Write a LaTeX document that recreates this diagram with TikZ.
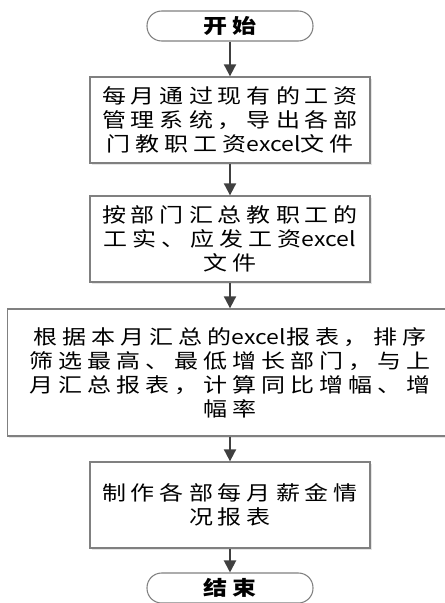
\documentclass[tikz,border=0pt]{standalone}
\usepackage{fontspec}
\newfontfamily\cjkfont[FakeStretch=1.2,LetterSpace=25]{Noto Sans CJK SC}
\newfontfamily\latfont[FakeStretch=1.15]{Noto Sans CJK SC}
\newcommand{\xls}{{\latfont excel}}
\usetikzlibrary{positioning,arrows.meta,shadows}

\begin{document}
\begin{tikzpicture}[x=0.75pt,y=-0.75pt]
	\tikzset{
		procbox/.style={draw=black!50,line width=1pt,fill=white,minimum width=210pt,minimum height=64.5pt,align=center,inner sep=2pt,
			drop shadow={shadow xshift=1.2pt,shadow yshift=-1.2pt,fill=black!20},font=\cjkfont\fontsize{15}{18}\selectfont},
		termbox/.style={draw=black!50,line width=0.8pt,fill=white,rounded corners=11pt,minimum width=124.5pt,minimum height=22.5pt,
			font=\cjkfont\bfseries\fontsize{15}{18}\selectfont},
		flowarrow/.style={-{Triangle[width=9pt,length=9pt]},draw=black!75,line width=1.5pt},
	}
	\useasboundingbox (0,0) rectangle (445,603);
	\node[termbox] (start) at (230,26) {开始};
	\node[procbox] (export) at (230,120) {每月通过现有的工资\\管理系统，导出各部\\门教职工资\xls 文件};
	\node[procbox] (collect) at (230,239) {按部门汇总教职工的\\工实、应发工资\xls\\文件};
	\node[procbox,minimum width=333.75pt,minimum height=95.25pt] (compare) at (230,372.5) {根据本月汇总的\xls 报表，排序\\筛选最高、最低增长部门，与上\\月汇总报表，计算同比增幅、增\\幅率};
	\node[procbox] (report) at (230,505) {制作各部每月薪金情\\况报表};
	\node[termbox] (stop) at (230,588) {结束};

	\draw[flowarrow] (start) -- (export);
	\draw[flowarrow] (export) -- (collect);
	\draw[flowarrow] (collect) -- (compare);
	\draw[flowarrow] (compare) -- (report);
	\draw[flowarrow] (report) -- (stop);
\end{tikzpicture}
\end{document}
